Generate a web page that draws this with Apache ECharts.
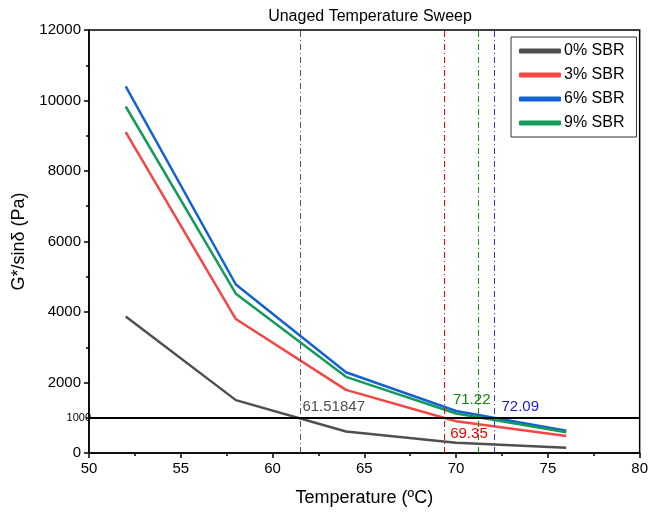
<!DOCTYPE html>
<html>
<head>
<meta charset="utf-8">
<script src="https://cdn.jsdelivr.net/npm/echarts@6/dist/echarts.min.js"></script>
<style>
  html, body { margin: 0; padding: 0; background: #fff; }
  #chart { width: 651px; height: 515px; }
</style>
</head>
<body>
<div id="chart"></div>
<script>
// temperatures (ºC)
var temps = [52, 58, 64, 70, 76];
// G*/sinδ (Pa) per SBR content
var sbr0 = [3870, 1500, 610, 290, 150];
var sbr3 = [9100, 3800, 1790, 900, 480];
var sbr6 = [10400, 4780, 2290, 1190, 630];
var sbr9 = [9830, 4520, 2160, 1120, 590];
var names = ['0% SBR', '3% SBR', '6% SBR', '9% SBR'];
var colors = ['#4f4f4f', '#f54545', '#1560d4', '#159a5a'];
var labelColors = ['#4f4f4f', '#f00000', '#1a1acc', '#118811'];
var guideColors = ['#555555', '#ff0000', '#3333ff', '#00a000'];
// failure temperatures where G*/sinδ = 1000 Pa
var critTemps = [61.51847, 69.35, 72.09, 71.22];
var critLabels = ['61.51847', '69.35', '72.09', '71.22'];
var limit = 1000;

var font = 'Liberation Sans, Arial, sans-serif';

function pairs(arr) {
    return temps.map(function (t, i) { return [t, arr[i]]; });
}

// label positions near each vertical line
var labelSpots = [
    {coord: [critTemps[0], 1300], position: 'right', distance: 2},
    {coord: [70.7, 540], position: 'inside', distance: 0},
    {coord: [critTemps[2], 1300], position: 'right', distance: 7},
    {coord: [70.85, 1500], position: 'inside', distance: 0}
];

var allData = [sbr0, sbr3, sbr6, sbr9];
var series = allData.map(function (d, i) {
    var guide = {color: guideColors[i], width: 1, type: [6, 3, 1, 3], opacity: 1};
    return {
        name: names[i],
        type: 'line',
        data: pairs(d),
        symbol: 'none',
        color: colors[i],
        lineStyle: {width: 2.5, color: colors[i]},
        z: 3,
        markLine: {
            silent: true,
            symbol: 'none',
            label: {show: false},
            itemStyle: {color: guideColors[i]},
            lineStyle: guide,
            data: [{xAxis: critTemps[i], lineStyle: guide}]
        },
        markPoint: {
            symbol: 'circle',
            symbolSize: 0,
            silent: true,
            label: {
                show: true,
                formatter: critLabels[i],
                color: labelColors[i],
                fontSize: 15,
                fontFamily: font,
                position: labelSpots[i].position,
                distance: labelSpots[i].distance
            },
            data: [{coord: labelSpots[i].coord}]
        }
    };
});

// horizontal 1000 Pa reference line
series.push({
    name: 'limit',
    type: 'line',
    data: [],
    markLine: {
        silent: true,
        symbol: 'none',
        lineStyle: {color: '#000', width: 2, type: 'solid'},
        label: {
            show: true,
            position: 'start',
            formatter: '1000',
            fontSize: 11,
            color: '#000',
            fontFamily: font,
            distance: -2
        },
        data: [{yAxis: limit}]
    }
});

var chart = echarts.init(document.getElementById('chart'));
chart.setOption({
    animation: false,
    backgroundColor: '#fff',
    title: {
        text: 'Unaged Temperature Sweep',
        left: 365,
        top: 4,
        textAlign: 'center',
        textStyle: {fontSize: 16, fontWeight: 'normal', color: '#000', fontFamily: font}
    },
    legend: {
        data: names,
        orient: 'vertical',
        left: 511,
        top: 37,
        icon: 'roundRect',
        itemWidth: 42,
        itemHeight: 5,
        itemGap: 8,
        padding: [6, 12, 6, 8],
        borderColor: '#333',
        borderWidth: 1,
        textStyle: {fontSize: 16, color: '#000', fontFamily: font, padding: [0, 0, 0, -2]}
    },
    grid: {
        left: 89,
        right: 8,
        top: 30,
        bottom: 62,
        show: true,
        borderColor: '#000',
        borderWidth: 1.5
    },
    xAxis: {
        type: 'value',
        min: 50,
        max: 80,
        interval: 5,
        name: 'Temperature (ºC)',
        nameLocation: 'middle',
        nameGap: 36,
        nameTextStyle: {fontSize: 18, color: '#000', fontFamily: font},
        axisLine: {lineStyle: {color: '#000', width: 1.5}},
        axisTick: {length: 5, lineStyle: {color: '#000', width: 1.5}},
        minorTick: {show: true, splitNumber: 2, length: 3, lineStyle: {color: '#000', width: 1.5}},
        axisLabel: {fontSize: 15, color: '#000', fontFamily: font, margin: 8},
        splitLine: {show: false}
    },
    yAxis: {
        type: 'value',
        min: 0,
        max: 12000,
        interval: 2000,
        name: 'G*/sinδ (Pa)',
        nameLocation: 'middle',
        nameGap: 52,
        nameTextStyle: {fontSize: 18, color: '#000', fontFamily: font},
        axisLine: {lineStyle: {color: '#000', width: 1.5}},
        axisTick: {length: 5, lineStyle: {color: '#000', width: 1.5}},
        minorTick: {show: true, splitNumber: 2, length: 3, lineStyle: {color: '#000', width: 1.5}},
        axisLabel: {
            fontSize: 15, color: '#000', fontFamily: font, margin: 8,
            formatter: function (v) { return String(v); }
        },
        splitLine: {show: false}
    },
    series: series
});
</script>
</body>
</html>
